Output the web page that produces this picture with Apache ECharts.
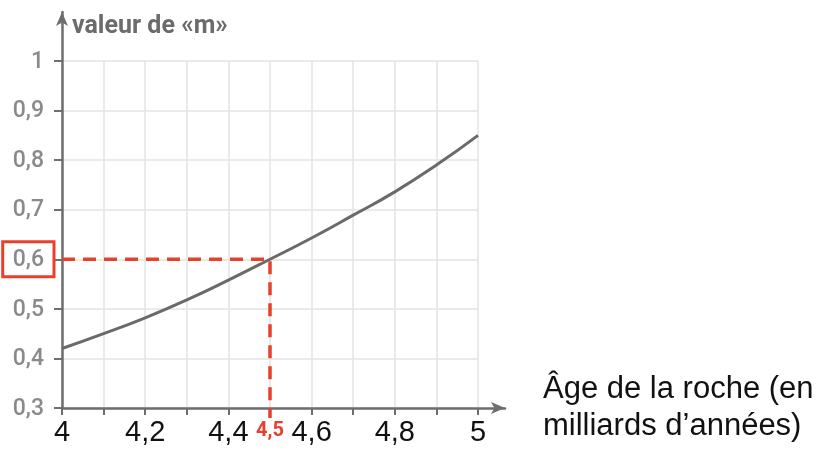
<!DOCTYPE html>
<html><head><meta charset="utf-8">
<script src="https://cdn.jsdelivr.net/npm/echarts@6/dist/echarts.min.js"></script>
<style>html,body{margin:0;padding:0;background:#fff}#c{width:840px;height:454px}</style>
</head><body><div id="c"></div>
<script>
// ---- data ----
const ages = [4.0, 4.1, 4.2, 4.3, 4.4, 4.5, 4.6, 4.7, 4.8, 4.9, 5.0];
const mValues = [0.42, 0.45, 0.482, 0.518, 0.558, 0.60, 0.643, 0.689, 0.736, 0.79, 0.85];
const readAge = 4.5;
const readM = 0.6;
const xLabeled = [4.0, 4.2, 4.4, 4.6, 4.8, 5.0];
const yAxisTitle = 'valeur de «m»';
const xAxisTitle = 'Âge de la roche (en\nmilliards d’années)';

const RED = '#e8402a';
const AX = '#6e6e6e';
const fmt = v => String(Math.round(v * 10) / 10).replace('.', ',');
const near = (a, b) => Math.abs(a - b) < 1e-6;

const chart = echarts.init(document.getElementById('c'), null, {renderer: 'canvas'});
const arrowLine = {show: true, lineStyle: {color: AX, width: 2.5}, symbol: ['none', 'arrow'], symbolSize: [9, 14], onZero: false};
chart.setOption({
  animation: false,
  backgroundColor: '#fff',
  grid: [
    {left: 62, top: 61, width: 416, height: 347, outerBoundsMode: 'none', containLabel: false},
    {left: 62, top: 12, width: 443, height: 396, outerBoundsMode: 'none', containLabel: false}
  ],
  xAxis: [
    {
      type: 'value', gridIndex: 0, min: 4, max: 5, interval: 0.1, position: 'bottom',
      axisLine: {show: false, onZero: false},
      axisTick: {show: true, length: 7, lineStyle: {color: AX, width: 2}},
      splitLine: {show: true, lineStyle: {color: '#e3e3e3', width: 1.5}},
      axisLabel: {
        margin: 10, fontSize: 29, color: '#111', fontFamily: 'Liberation Sans', lineHeight: 30,
        formatter: v => near(v, readAge) ? '{r|' + fmt(v) + '}' : (xLabeled.some(x => near(x, v)) ? fmt(v) : ''),
        rich: {r: {color: RED, fontSize: 20, fontWeight: 'bold', fontFamily: 'Roboto', lineHeight: 26}}
      },
      name: xAxisTitle, nameLocation: 'end', nameGap: 65, nameMoveOverlap: false,
      nameTextStyle: {align: 'left', verticalAlign: 'middle', fontSize: 31, lineHeight: 37, color: '#111', fontFamily: 'Liberation Sans', padding: [0, 0, 10, 0]}
    },
    {
      type: 'value', gridIndex: 1, min: 4, max: 5.065, position: 'bottom',
      axisLine: arrowLine, axisTick: {show: false}, axisLabel: {show: false}, splitLine: {show: false}
    }
  ],
  yAxis: [
    {
      type: 'value', gridIndex: 0, min: 0.3, max: 1, interval: 0.1, position: 'left',
      axisLine: {show: false, onZero: false},
      axisTick: {show: true, length: 8, lineStyle: {color: AX, width: 2}},
      splitLine: {show: true, lineStyle: {color: '#e3e3e3', width: 1.5}},
      axisLabel: {
        margin: 8,
        formatter: v => near(v, readM) ? '{b|' + fmt(v) + '}' : '{n|' + fmt(v) + '}',
        rich: {
          n: {fontSize: 23, color: '#8a8a8a', fontWeight: 500, fontFamily: 'Roboto', lineHeight: 26, padding: [7, 10, 5, 10]},
          b: {fontSize: 23, color: '#8a8a8a', fontWeight: 500, fontFamily: 'Roboto', lineHeight: 26, padding: [7, 10, 5, 10], borderColor: RED, borderWidth: 3}
        }
      },
      name: yAxisTitle, nameLocation: 'end', nameGap: 34, nameMoveOverlap: false,
      nameTextStyle: {align: 'left', verticalAlign: 'middle', fontSize: 25, fontWeight: 'bold', color: '#6b6b6b', fontFamily: 'Roboto', padding: [0, 0, 0, 10]}
    },
    {
      type: 'value', gridIndex: 1, min: 0.3, max: 1.1, position: 'left',
      axisLine: arrowLine, axisTick: {show: false}, axisLabel: {show: false}, splitLine: {show: false}
    }
  ],
  series: [
    {
      type: 'line', xAxisIndex: 0, yAxisIndex: 0, smooth: true, symbol: 'none',
      data: ages.map((a, i) => [a, mValues[i]]),
      lineStyle: {color: '#6a6a6a', width: 3}, z: 3
    },
    {
      type: 'line', xAxisIndex: 0, yAxisIndex: 0, symbol: 'none', clip: false, silent: true,
      data: [[ages[0], readM], [readAge, readM], [readAge, 0.28]],
      lineStyle: {color: RED, width: 3.5, type: [13, 8]}, z: 4
    }
  ]
});
</script>
</body></html>
